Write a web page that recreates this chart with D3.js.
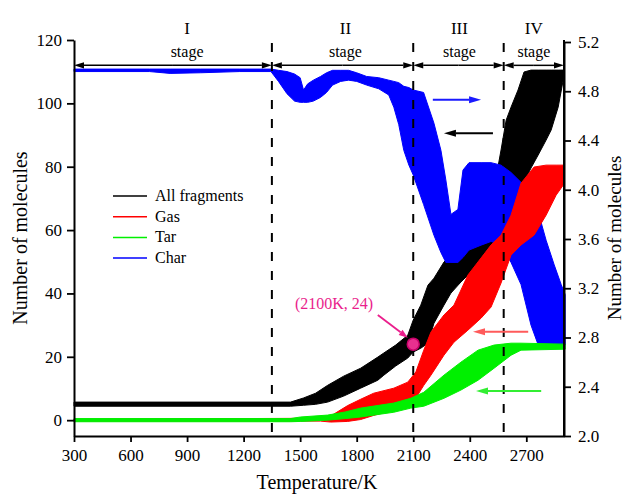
<!DOCTYPE html>
<html><head><meta charset="utf-8">
<script src="https://cdn.jsdelivr.net/npm/d3@7"></script>
<style>
body{margin:0;background:#fff}
svg text{font-family:"Liberation Serif","Times New Roman",serif !important}
</style>
</head><body>
<svg id="c" width="627" height="495"></svg>
<script>
// ---------- data ----------
const xTicks = [300, 600, 900, 1200, 1500, 1800, 2100, 2400, 2700];
const leftTicks = [0, 20, 40, 60, 80, 100, 120];
const rightTicks = [2.0, 2.4, 2.8, 3.2, 3.6, 4.0, 4.4, 4.8, 5.2];
const stageBounds = [300, 1350, 2100, 2580, 2900];
const stageNames = ["I", "II", "III", "IV"];
const stageCenters = [900, 1740, 2345, 2740];
const seriesNames = ["All fragments", "Gas", "Tar", "Char"];

// All fragments (left axis): temperature, lower and upper edge of the band
const allT  = [300, 1345, 1449, 1518, 1582, 1646, 1731, 1821, 1912, 1944, 2007, 2071, 2100, 2140, 2178, 2210, 2263, 2300, 2353, 2406, 2460, 2513, 2566, 2593, 2619, 2656, 2688, 2725, 2763, 2805, 2832, 2869, 2896];
const allLo = [4.4, 4.4, 4.4, 4.7, 5.0, 5.7, 7.6, 10.1, 12.6, 14.2, 17.1, 19.6, 21.5, 22.7, 24.3, 30.6, 36.3, 40.1, 43.6, 46.7, 51.2, 55.3, 58.4, 61.6, 66.3, 71.0, 75.2, 79.6, 83.7, 88.4, 91.6, 98.8, 107.4];
const allHi = [5.7, 5.7, 5.7, 7.0, 8.5, 11.0, 13.9, 16.4, 19.9, 21.2, 23.7, 26.8, 31.6, 36.3, 42.6, 44.8, 49.9, 52.1, 55.3, 58.4, 63.2, 67.9, 85.3, 94.7, 98.8, 104.2, 109.9, 110.5, 110.5, 110.5, 110.5, 110.5, 110.5];

// Gas (left axis)
const gasT  = [300, 1608, 1662, 1752, 1821, 1890, 1997, 2071, 2114, 2156, 2194, 2263, 2316, 2390, 2460, 2513, 2566, 2619, 2672, 2741, 2805, 2858, 2896];
const gasLo = [-0.3, -0.3, -0.6, -0.4, 0.2, 1.5, 3.2, 4.7, 7.0, 11.0, 14.2, 20.5, 24.6, 28.4, 32.2, 35.7, 43.3, 52.1, 55.3, 58.4, 64.7, 71.0, 74.2];
const gasHi = [0.3, 0.6, 1.3, 4.6, 6.6, 8.5, 10.1, 12.0, 15.2, 22.1, 27.8, 33.2, 36.3, 45.8, 51.2, 55.3, 58.4, 64.7, 74.8, 79.9, 80.5, 80.5, 80.5];

// Tar (left axis)
const tarT  = [300, 1449, 1502, 1646, 1740, 1821, 1997, 2087, 2156, 2263, 2353, 2444, 2529, 2619, 2672, 2906];
const tarLo = [-0.5, -0.5, -0.4, 0.0, 0.5, 1.0, 2.5, 3.8, 4.4, 6.9, 9.5, 12.6, 16.4, 20.5, 22.1, 22.4];
const tarHi = [0.5, 0.5, 1.0, 1.6, 2.6, 3.8, 5.4, 6.9, 8.8, 14.2, 18.3, 22.1, 23.7, 24.3, 24.3, 24.0];

// Char (right axis)
const charT  = [300, 700, 810, 970, 1180, 1345, 1385, 1430, 1470, 1500, 1518, 1540, 1570, 1608, 1640, 1672, 1715, 1757, 1800, 1853, 1917, 1970, 1997, 2023, 2050, 2077, 2100, 2155, 2210, 2247, 2273, 2300, 2337, 2364, 2396, 2460, 2513, 2566, 2619, 2672, 2725, 2763, 2805, 2848, 2885, 2906];
const charLo = [4.96, 4.96, 4.945, 4.95, 4.96, 4.96, 4.88, 4.78, 4.72, 4.71, 4.71, 4.71, 4.72, 4.75, 4.79, 4.85, 4.88, 4.89, 4.88, 4.85, 4.82, 4.77, 4.67, 4.53, 4.32, 4.20, 4.12, 3.88, 3.63, 3.49, 3.41, 3.41, 3.41, 3.45, 3.51, 3.55, 3.58, 3.55, 3.41, 3.23, 2.90, 2.74, 2.74, 2.74, 2.74, 2.74];
const charHi = [4.98, 4.98, 4.98, 4.98, 4.98, 4.98, 4.97, 4.96, 4.94, 4.91, 4.81, 4.86, 4.89, 4.92, 4.95, 4.97, 4.97, 4.97, 4.95, 4.92, 4.91, 4.89, 4.88, 4.87, 4.84, 4.83, 4.81, 4.79, 4.54, 4.32, 4.08, 3.80, 3.84, 4.16, 4.22, 4.22, 4.22, 4.20, 4.14, 4.06, 3.92, 3.82, 3.59, 3.39, 3.23, 3.15];

// annotation point
const markT = 2100, markV = 24;

// ---------- drawing ----------
const FONT = "Liberation Serif, Times New Roman, serif";
const svg = d3.select("#c").attr("font-family", FONT);
const x = d3.scaleLinear().domain([300, 2900]).range([74, 564]);
const yL = d3.scaleLinear().domain([-5, 120]).range([436, 40]);
const yR = d3.scaleLinear().domain([2.0, 5.2]).range([436, 42]);

const colors = {all: "#000000", gas: "#ff0000", tar: "#00f000", char: "#0000ff"};

function band(T, lo, hi, y, color) {
  const d = T.map((t, i) => ({t, lo: lo[i], hi: hi[i]}));
  const area = d3.area().x(p => x(p.t)).y0(p => y(p.lo)).y1(p => y(p.hi));
  svg.append("path").attr("d", area(d)).attr("fill", color)
     .attr("stroke", color).attr("stroke-width", 1);
}
band(allT, allLo, allHi, yL, colors.all);
band(charT, charLo, charHi, yR, colors.char);
band(gasT, gasLo, gasHi, yL, colors.gas);
band(tarT, tarLo, tarHi, yL, colors.tar);

// dashed stage dividers
stageBounds.slice(1, 4).forEach(t => {
  svg.append("line").attr("x1", x(t)).attr("x2", x(t))
    .attr("y1", 43).attr("y2", 432)
    .attr("stroke", "#000").attr("stroke-width", 2).attr("stroke-dasharray", "9,10");
});

// arrow helper
function arrow(x1, y1, x2, y2, color, len, hw, sw) {
  const ang = Math.atan2(y2 - y1, x2 - x1);
  const bx = x2 - len * Math.cos(ang), by = y2 - len * Math.sin(ang);
  svg.append("line").attr("x1", x1).attr("y1", y1).attr("x2", bx).attr("y2", by)
    .attr("stroke", color).attr("stroke-width", sw);
  const px = -Math.sin(ang) * hw, py = Math.cos(ang) * hw;
  svg.append("path").attr("d", `M${x2},${y2}L${bx + px},${by + py}L${bx - px},${by - py}Z`).attr("fill", color);
}

// stage arrows
const stageArrowV = 112;
for (let i = 0; i < 4; i++) {
  const a = x(stageBounds[i]), b = x(stageBounds[i + 1]), yy = yL(stageArrowV);
  const m = (a + b) / 2;
  arrow(m, yy, a, yy, "#000", 10, 3.2, 1.5);
  arrow(m, yy, b, yy, "#000", 10, 3.2, 1.5);
  svg.append("text").attr("x", x(stageCenters[i])).attr("y", 34).attr("text-anchor", "middle")
    .attr("font-size", 17).text(stageNames[i]);
  svg.append("text").attr("x", x(stageCenters[i])).attr("y", 57).attr("text-anchor", "middle")
    .attr("font-size", 16).text("stage");
}

// series pointer arrows
arrow(x(2204), yR(4.73), x(2460), yR(4.73), "#1a1aff", 12, 3.5, 2);
arrow(x(2523), yL(90.6), x(2263), yL(90.6), "#000", 12, 3.5, 2);
arrow(x(2710), yL(27.9), x(2417), yL(27.9), "#ff5a5a", 12, 3.5, 2);
arrow(x(2779), yL(9.2), x(2433), yL(9.2), "#33ee33", 12, 3.5, 2);

// marked point
const pink = "#ea1e8c";
arrow(x(1912), yL(33.2), x(2071), yL(26.0), pink, 9, 3.2, 1.8);
svg.append("circle").attr("cx", x(markT)).attr("cy", yL(markV)).attr("r", 6)
  .attr("fill", "#e8308f").attr("stroke", "#c8006a").attr("stroke-width", 1.5);
svg.append("text").attr("x", x(1680)).attr("y", yL(35)).attr("text-anchor", "middle")
  .attr("font-size", 16).style("fill", pink).text(`(${markT}K, ${markV})`);

// axes
function styleAxis(g) {
  g.attr("font-family", FONT).attr("font-size", 17);
  g.select(".domain").attr("stroke-width", 2);
  g.selectAll(".tick line").attr("stroke-width", 1.8);
  g.selectAll("text").attr("fill", "#000");
}
svg.append("g").attr("transform", "translate(0,436)")
  .call(d3.axisBottom(x).tickValues(xTicks).tickFormat(d3.format("d")).tickSize(6).tickSizeOuter(0).tickPadding(7))
  .call(styleAxis);
svg.append("g").attr("transform", "translate(74,0)")
  .call(d3.axisLeft(yL).tickValues(leftTicks).tickSize(7).tickSizeOuter(0).tickPadding(5))
  .call(styleAxis);
svg.append("g").attr("transform", "translate(564,0)")
  .call(d3.axisRight(yR).tickValues(rightTicks).tickFormat(d3.format(".1f")).tickSize(7).tickSizeOuter(0).tickPadding(7))
  .call(styleAxis);
svg.append("line").attr("x1", 564).attr("x2", 564).attr("y1", 40).attr("y2", 436).attr("stroke", "#000").attr("stroke-width", 2);

// titles
svg.append("text").attr("x", 317).attr("y", 489).attr("text-anchor", "middle").attr("font-size", 20).text("Temperature/K");
svg.append("text").attr("transform", "translate(27,238) rotate(-90)").attr("text-anchor", "middle").attr("font-size", 20).text("Number of molecules");
svg.append("text").attr("transform", "translate(621,238) rotate(-90)").attr("text-anchor", "middle").attr("font-size", 19).text("Number of molecules");

// legend
const legColors = [colors.all, colors.gas, colors.tar, colors.char];
seriesNames.forEach((n, i) => {
  const yy = 196 + i * 20.7;
  svg.append("line").attr("x1", 113).attr("x2", 147).attr("y1", yy).attr("y2", yy)
    .attr("stroke", legColors[i]).attr("stroke-width", 1.5);
  svg.append("text").attr("x", 155).attr("y", yy + 5).attr("font-size", 16).text(n);
});
</script>
</body></html>
